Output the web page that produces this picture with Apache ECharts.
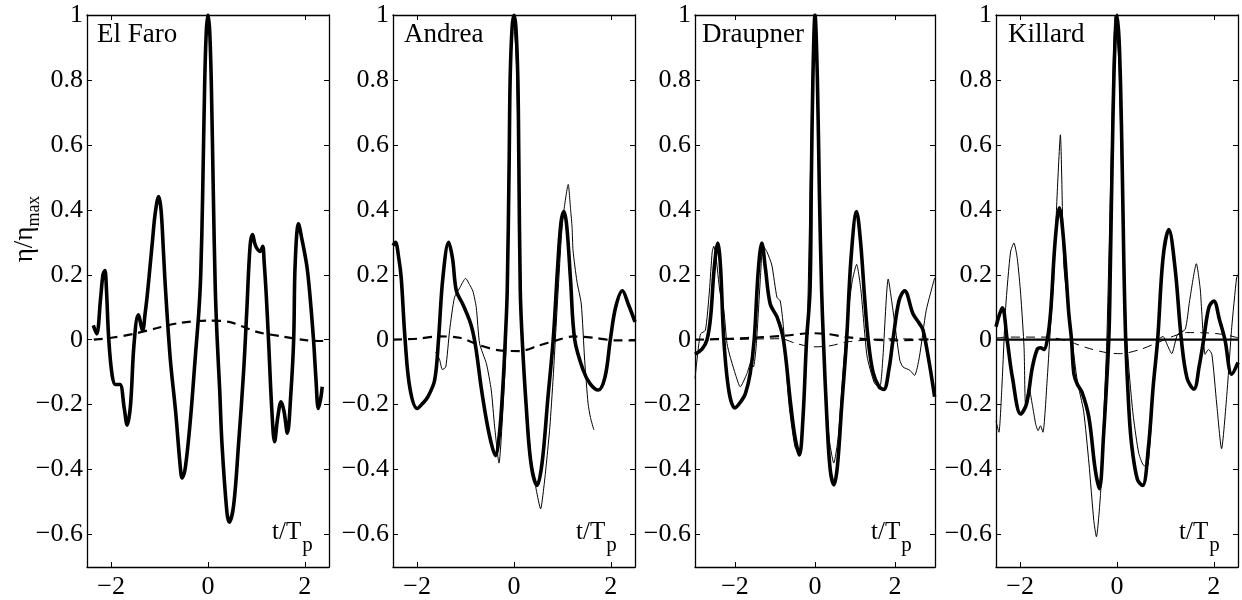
<!DOCTYPE html>
<html>
<head>
<meta charset="utf-8">
<script src="https://cdn.jsdelivr.net/npm/echarts@6/dist/echarts.min.js"></script>
<style>
html, body { margin: 0; padding: 0; background: #fff; }
#chart { width: 1242px; height: 600px; }
</style>
</head>
<body>
<div id="chart"></div>
<script>
// panels, ranges and tick labels
var panelNames = ['El Faro', 'Andrea', 'Draupner', 'Killard'];
var xMin = [-2.5, -2.5, -3, -2.5];
var xMax = [2.5, 2.5, 3, 2.5];
var xTicks = [-2, 0, 2];
var yTicks = [-0.6, -0.4, -0.2, 0, 0.2, 0.4, 0.6, 0.8, 1];
var yMin = -0.7, yMax = 1;

// El Faro  [t/Tp, eta/eta_max]
var elFaroModel = [[-2.37,0.044],[-2.30,0.018],[-2.22,0.126],[-2.17,0.20],[-2.13,0.213],[-2.10,0.16],[-2.05,0.0],[-1.98,-0.11],[-1.91,-0.138],[-1.82,-0.138],[-1.73,-0.212],[-1.67,-0.263],[-1.60,-0.20],[-1.53,-0.017],[-1.44,0.077],[-1.35,0.029],[-1.30,0.08],[-1.26,0.13],[-1.22,0.19],[-1.15,0.30],[-1.09,0.39],[-1.02,0.441],[-0.97,0.40],[-0.92,0.27],[-0.88,0.16],[-0.78,-0.058],[-0.67,-0.22],[-0.57,-0.396],[-0.536,-0.426],[-0.47,-0.396],[-0.36,-0.24],[-0.26,-0.048],[-0.19,0.085],[-0.15,0.20],[-0.11,0.45],[-0.07,0.78],[-0.035,0.95],[0,1],[0.035,0.95],[0.07,0.78],[0.11,0.45],[0.15,0.16],[0.19,0.0],[0.24,-0.15],[0.29,-0.324],[0.39,-0.53],[0.44,-0.562],[0.53,-0.51],[0.63,-0.324],[0.735,-0.1],[0.80,0.085],[0.87,0.29],[0.92,0.324],[0.98,0.29],[1.08,0.272],[1.13,0.288],[1.16,0.24],[1.20,0.147],[1.25,0.0],[1.32,-0.22],[1.375,-0.314],[1.44,-0.24],[1.51,-0.191],[1.57,-0.22],[1.64,-0.288],[1.71,-0.17],[1.77,0.0],[1.80,0.23],[1.87,0.357],[1.94,0.31],[2.04,0.229],[2.10,0.147],[2.18,0.0],[2.23,-0.12],[2.28,-0.212],[2.33,-0.18],[2.36,-0.145]];
var elFaroSecond = [[-2.36,0.0],[-2.0,0.006],[-1.53,0.018],[-1.05,0.036],[-0.57,0.052],[0,0.059],[0.46,0.054],[1.01,0.024],[1.49,0.011],[2.05,-0.002],[2.38,-0.004]];

// Andrea
var andreaModel = [[-2.5,0.29],[-2.45,0.30],[-2.38,0.25],[-2.33,0.19],[-2.25,0.0],[-2.15,-0.15],[-2.0,-0.212],[-1.88,-0.195],[-1.78,-0.176],[-1.64,-0.125],[-1.56,0.0],[-1.47,0.19],[-1.35,0.30],[-1.27,0.25],[-1.19,0.15],[-1.06,0.11],[-0.92,0.06],[-0.85,0.024],[-0.78,-0.033],[-0.68,-0.145],[-0.57,-0.247],[-0.47,-0.319],[-0.386,-0.357],[-0.30,-0.288],[-0.23,-0.145],[-0.18,0.0],[-0.14,0.15],[-0.10,0.55],[-0.08,0.8],[-0.04,0.96],[0,1],[0.04,0.96],[0.08,0.8],[0.10,0.55],[0.13,0.15],[0.17,0.0],[0.25,-0.2],[0.35,-0.38],[0.476,-0.449],[0.58,-0.38],[0.70,-0.18],[0.81,0.0],[0.90,0.22],[0.97,0.36],[1.03,0.395],[1.09,0.35],[1.17,0.18],[1.255,0.0],[1.43,-0.094],[1.57,-0.135],[1.74,-0.155],[1.88,-0.115],[1.99,0.0],[2.1,0.1],[2.24,0.151],[2.36,0.11],[2.5,0.055]];
var andreaMeasured = [[-1.62,-0.038],[-1.54,-0.06],[-1.48,-0.092],[-1.41,-0.084],[-1.33,0.029],[-1.23,0.13],[-1.12,0.16],[-1.0,0.189],[-0.92,0.17],[-0.85,0.15],[-0.78,0.10],[-0.71,-0.012],[-0.57,-0.074],[-0.47,-0.155],[-0.40,-0.268],[-0.31,-0.38],[-0.23,-0.217],[-0.16,0.0],[-0.11,0.5],[-0.05,0.95],[-0.02,1.0],[0.05,0.85],[0.12,0.3],[0.17,0.0],[0.25,-0.18],[0.35,-0.36],[0.46,-0.462],[0.55,-0.521],[0.62,-0.45],[0.67,-0.38],[0.74,-0.27],[0.81,-0.115],[0.9,0.12],[0.98,0.32],[1.03,0.397],[1.12,0.478],[1.17,0.40],[1.2,0.346],[1.22,0.274],[1.30,0.18],[1.39,0.11],[1.46,-0.063],[1.53,-0.196],[1.58,-0.24],[1.65,-0.278]];
var andreaSecond = [[-2.5,0],[-2.0,0.003],[-1.54,0.01],[-1.12,0.006],[-0.71,-0.017],[-0.3,-0.033],[0.12,-0.035],[0.53,-0.017],[0.88,-0.002],[1.22,0.01],[1.63,0.006],[2.1,-0.002],[2.5,-0.002]];

// Draupner
var draupnerModel = [[-3.0,-0.045],[-2.82,-0.028],[-2.70,0.0],[-2.61,0.07],[-2.52,0.22],[-2.43,0.298],[-2.36,0.22],[-2.28,0.0],[-2.15,-0.16],[-2.0,-0.21],[-1.85,-0.19],[-1.74,-0.166],[-1.62,-0.104],[-1.52,0.0],[-1.42,0.21],[-1.33,0.298],[-1.24,0.22],[-1.12,0.11],[-0.95,0.07],[-0.79,0.0],[-0.62,-0.186],[-0.50,-0.3],[-0.39,-0.355],[-0.30,-0.24],[-0.21,0.0],[-0.125,0.15],[-0.09,0.5],[-0.05,0.82],[0,1],[0.06,0.8],[0.11,0.45],[0.166,0.15],[0.21,0.0],[0.3,-0.25],[0.38,-0.4],[0.473,-0.447],[0.56,-0.39],[0.67,-0.2],[0.79,0.0],[0.9,0.25],[1.04,0.395],[1.14,0.3],[1.24,0.13],[1.33,0.0],[1.45,-0.1],[1.6,-0.145],[1.72,-0.153],[1.85,-0.09],[1.95,0.0],[2.1,0.12],[2.24,0.151],[2.45,0.08],[2.61,0.05],[2.7,0.03],[2.86,-0.074],[2.99,-0.176]];
var draupnerMeasured = [[-3.0,-0.12],[-2.93,-0.04],[-2.86,0.018],[-2.74,0.029],[-2.64,0.15],[-2.57,0.27],[-2.53,0.288],[-2.47,0.25],[-2.38,0.15],[-2.28,0.09],[-2.2,-0.012],[-2.12,-0.053],[-1.98,-0.11],[-1.87,-0.145],[-1.7,-0.104],[-1.6,-0.07],[-1.54,-0.084],[-1.47,-0.02],[-1.37,0.18],[-1.3,0.29],[-1.2,0.27],[-1.08,0.23],[-0.95,0.13],[-0.87,0.12],[-0.79,0.04],[-0.65,-0.2],[-0.5,-0.33],[-0.39,-0.35],[-0.3,-0.22],[-0.2,0.0],[-0.1,0.6],[-0.02,1.0],[0.06,0.8],[0.14,0.25],[0.22,-0.05],[0.35,-0.3],[0.47,-0.38],[0.58,-0.3],[0.7,-0.1],[0.8,0.05],[0.93,0.18],[1.04,0.232],[1.15,0.15],[1.3,-0.05],[1.49,-0.135],[1.62,-0.145],[1.7,-0.05],[1.83,0.187],[1.95,0.09],[2.12,-0.063],[2.2,-0.084],[2.37,-0.094],[2.49,-0.11],[2.61,-0.053],[2.78,0.09],[2.99,0.19]];
var draupnerSecond = [[-3,0],[-2.12,0.003],[-1.29,0.008],[-0.7,0.013],[-0.12,0.02],[0.29,0.018],[0.79,0.008],[1.37,0.001],[2.03,-0.002],[3,0.002]];
var draupnerSecondObs = [[-3,0],[-2,0.001],[-0.87,0.003],[-0.46,-0.012],[-0.04,-0.022],[0.37,-0.019],[0.79,-0.007],[1.2,-0.002],[2.0,0.003],[3,0]];

// Killard
var killardModel = [[-2.5,0.04],[-2.37,0.098],[-2.27,0.0],[-2.16,-0.117],[-1.99,-0.229],[-1.87,-0.198],[-1.75,-0.086],[-1.65,-0.03],[-1.58,-0.025],[-1.51,-0.03],[-1.44,0.0],[-1.37,0.088],[-1.28,0.3],[-1.19,0.406],[-1.1,0.3],[-1.0,0.088],[-0.94,0.0],[-0.89,-0.106],[-0.82,-0.137],[-0.72,-0.163],[-0.58,-0.24],[-0.45,-0.4],[-0.364,-0.459],[-0.28,-0.3],[-0.17,0.0],[-0.14,0.2],[-0.1,0.55],[-0.05,0.88],[0,1],[0.05,0.9],[0.1,0.6],[0.14,0.25],[0.18,0.0],[0.24,-0.2],[0.3,-0.32],[0.42,-0.43],[0.53,-0.449],[0.65,-0.33],[0.75,-0.14],[0.84,0.0],[0.95,0.25],[1.07,0.339],[1.2,0.22],[1.33,0.0],[1.45,-0.12],[1.59,-0.152],[1.7,-0.08],[1.79,0.0],[1.9,0.1],[2.0,0.119],[2.12,0.06],[2.23,0.0],[2.37,-0.106],[2.5,-0.07]];
var killardMeasured = [[-2.5,-0.25],[-2.44,-0.285],[-2.38,-0.15],[-2.3,0.1],[-2.2,0.27],[-2.13,0.298],[-2.06,0.25],[-1.99,0.14],[-1.92,-0.025],[-1.89,-0.198],[-1.82,-0.147],[-1.75,-0.2],[-1.68,-0.26],[-1.63,-0.28],[-1.58,-0.265],[-1.53,-0.285],[-1.44,-0.117],[-1.37,0.05],[-1.31,0.18],[-1.24,0.436],[-1.17,0.631],[-1.1,0.232],[-1.03,0.13],[-0.93,0.0],[-0.82,-0.127],[-0.69,-0.22],[-0.58,-0.38],[-0.48,-0.556],[-0.426,-0.607],[-0.34,-0.474],[-0.27,-0.22],[-0.21,0.0],[-0.12,0.55],[-0.04,1.0],[0.04,0.85],[0.12,0.35],[0.2,0.0],[0.28,-0.15],[0.34,-0.24],[0.45,-0.35],[0.56,-0.388],[0.63,-0.388],[0.7,-0.28],[0.76,-0.117],[0.86,0.0],[0.95,0.01],[1.05,-0.02],[1.13,-0.043],[1.25,0.016],[1.41,0.032],[1.5,0.12],[1.64,0.234],[1.72,0.156],[1.75,0.088],[1.82,-0.045],[1.89,-0.03],[1.96,-0.045],[2.06,-0.198],[2.16,-0.336],[2.27,-0.168],[2.37,0.037],[2.47,0.19],[2.5,0.2]];
var killardSecond = [[-2.5,0.005],[-2.27,0.008],[-1.44,0.008],[-1.03,-0.004],[-0.62,-0.025],[-0.21,-0.04],[0.07,-0.043],[0.48,-0.03],[0.82,-0.01],[1.17,0.011],[1.44,0.022],[1.86,0.021],[2.2,0.016],[2.5,0.006]];
var killardLinear = [[-2.5,0],[2.5,0]];

// layout
var font = 'Liberation Serif';
var gridLeft = [87, 393, 695, 996];
var gridWidth = [242, 242, 240, 242];
var gridTop = 15, gridHeight = 554;
var nameOffset = [10, 11, 7, 12];
var tpOffset = [57, 59, 64, 59];

var lineStyles = {
  thick: { width: 3.6, type: 'solid', smooth: 0.35 },
  thin: { width: 1, type: 'solid', smooth: 0.2 },
  dash: { width: 2.2, type: [9, 6], smooth: 0.3 },
  thinDash: { width: 1, type: [9, 6], smooth: 0.3 },
  zero: { width: 2.2, type: 'solid', smooth: false }
};

var curves = [
  { panel: 0, data: elFaroSecond, style: 'dash' },
  { panel: 0, data: elFaroModel, style: 'thick' },
  { panel: 1, data: andreaSecond, style: 'dash' },
  { panel: 1, data: andreaMeasured, style: 'thin' },
  { panel: 1, data: andreaModel, style: 'thick' },
  { panel: 2, data: draupnerSecondObs, style: 'thinDash' },
  { panel: 2, data: draupnerSecond, style: 'dash' },
  { panel: 2, data: draupnerMeasured, style: 'thin' },
  { panel: 2, data: draupnerModel, style: 'thick' },
  { panel: 3, data: killardSecond, style: 'thinDash' },
  { panel: 3, data: killardLinear, style: 'zero' },
  { panel: 3, data: killardMeasured, style: 'thin' },
  { panel: 3, data: killardModel, style: 'thick' }
];

function fmt(v) {
  return String(v).replace('-', '\u2212');
}

var grids = [], xAxes = [], yAxes = [], series = [], titles = [];
var frame = { show: true, onZero: false, lineStyle: { color: '#000', width: 1.3 } };

for (var i = 0; i < 4; i++) {
  grids.push({ left: gridLeft[i], top: gridTop, width: gridWidth[i], height: gridHeight });
  ['bottom', 'top'].forEach(function (pos) {
    xAxes.push({
      gridIndex: i, type: 'value', position: pos, min: xMin[i], max: xMax[i],
      axisLine: frame,
      axisTick: { show: true, inside: true, length: 5, customValues: xTicks, lineStyle: { color: '#000', width: 1 } },
      axisLabel: { show: pos === 'bottom', customValues: xTicks, formatter: fmt, fontFamily: font, fontSize: 26, color: '#000', margin: 7 },
      splitLine: { show: false }
    });
  });
  ['left', 'right'].forEach(function (pos) {
    yAxes.push({
      gridIndex: i, type: 'value', position: pos, min: yMin, max: yMax,
      axisLine: frame,
      axisTick: { show: true, inside: true, length: 5, customValues: yTicks, lineStyle: { color: '#000', width: 1 } },
      axisLabel: { show: pos === 'left', customValues: yTicks, formatter: fmt, fontFamily: font, fontSize: 26, color: '#000', margin: 4 },
      splitLine: { show: false }
    });
  });
  titles.push({
    text: panelNames[i], left: gridLeft[i] + nameOffset[i], top: 21, padding: 0,
    textStyle: { fontFamily: font, fontSize: 27, fontWeight: 'normal', color: '#000' }
  });
  titles.push({
    text: '{a|t/T}{b|p}', left: gridLeft[i] + gridWidth[i] - tpOffset[i], top: 520, padding: 0,
    textStyle: {
      fontWeight: 'normal',
      rich: {
        a: { fontFamily: font, fontSize: 25, fontWeight: 'normal', color: '#000', verticalAlign: 'top' },
        b: { fontFamily: font, fontSize: 21, fontWeight: 'normal', color: '#000', verticalAlign: 'top', padding: [15, 0, 0, 1] }
      }
    }
  });
}

curves.forEach(function (c) {
  var s = lineStyles[c.style];
  series.push({
    type: 'line',
    xAxisIndex: 2 * c.panel,
    yAxisIndex: 2 * c.panel,
    data: c.data,
    symbol: 'none',
    smooth: s.smooth,
    silent: true,
    lineStyle: { color: '#000', width: s.width, type: s.type }
  });
});

var chart = echarts.init(document.getElementById('chart'));
chart.setOption({
  backgroundColor: '#fff',
  animation: false,
  title: titles,
  grid: grids,
  xAxis: xAxes,
  yAxis: yAxes,
  series: series,
  graphic: [{
    type: 'text',
    x: 27, y: 229,
    rotation: Math.PI / 2,
    style: {
      text: '{a|\u03b7/\u03b7}{b|max}',
      align: 'center',
      verticalAlign: 'middle',
      rich: {
        a: { fontFamily: font, fontSize: 27, fill: '#000', verticalAlign: 'top' },
        b: { fontFamily: font, fontSize: 18, fill: '#000', verticalAlign: 'top', padding: [14, 0, 0, 0] }
      }
    }
  }]
});
</script>
</body>
</html>
